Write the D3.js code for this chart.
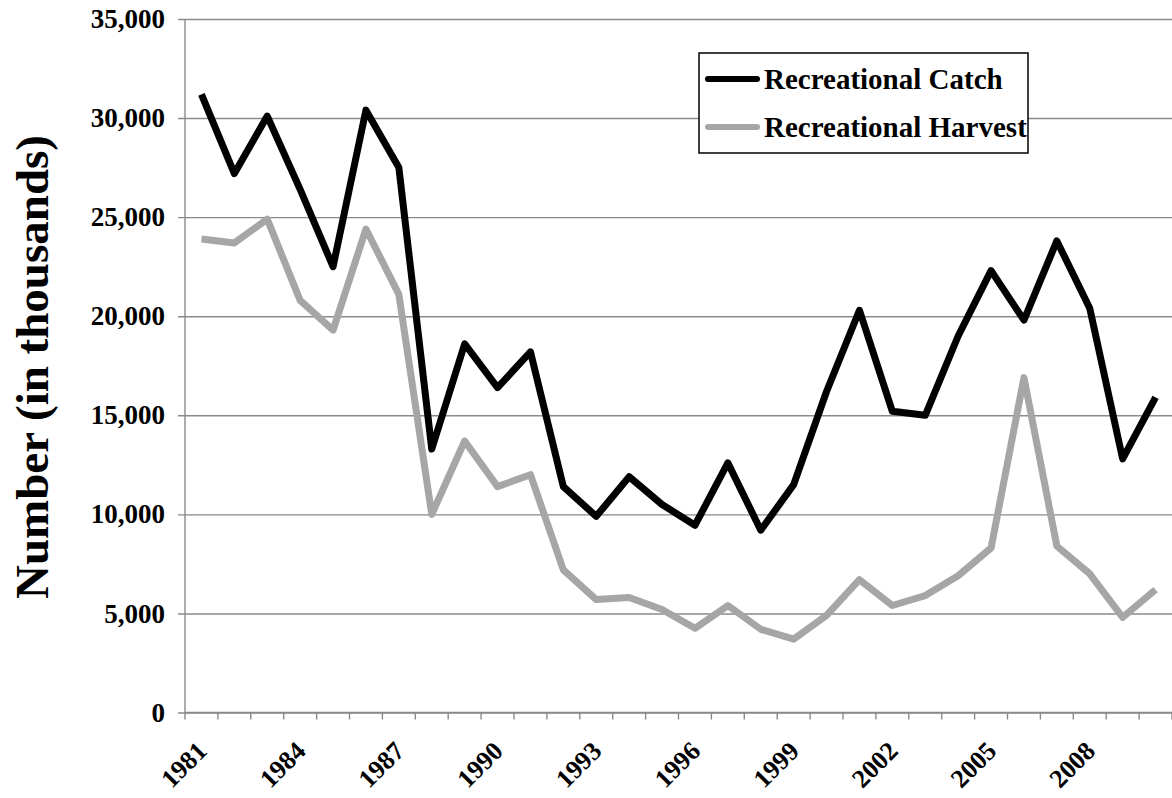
<!DOCTYPE html>
<html>
<head>
<meta charset="utf-8">
<script src="https://cdn.jsdelivr.net/npm/d3@7"></script>
<style>
  body { margin: 0; background: #fff; }
  svg { display: block; font-family: "Liberation Serif", "Times New Roman", serif; font-weight: bold; }
</style>
</head>
<body>
<svg id="chart" width="1172" height="798"></svg>
<script>
var years = d3.range(1981, 2011)
var catchVals = [31200, 27200, 30100, 26400, 22500, 30400, 27500, 13300, 18600, 16400,
  18200, 11400, 9900, 11900, 10500, 9450, 12600, 9200, 11500, 16200,
  20300, 15200, 15000, 19000, 22300, 19800, 23800, 20400, 12800, 15900]
var harvestVals = [23900, 23700, 24900, 20800, 19300, 24400, 21100, 10000, 13700, 11400,
  12000, 7200, 5700, 5800, 5200, 4250, 5400, 4200, 3700, 4900,
  6700, 5400, 5900, 6900, 8300, 16900, 8400, 7000, 4800, 6200]
var yTicks = [0, 5000, 10000, 15000, 20000, 25000, 30000, 35000]
var xLabelYears = [1981, 1984, 1987, 1990, 1993, 1996, 1999, 2002, 2005, 2008]
var seriesNames = ["Recreational Catch", "Recreational Harvest"]
var seriesColors = ["#000000", "#a6a6a6"]

var svg = d3.select("#chart")
var mLeft = 185, mRight = 1172, mTop = 19, mBottom = 712.5

var x = d3.scaleBand().domain(years).range([mLeft, mRight])
var y = d3.scaleLinear().domain([0, 35000]).range([mBottom, mTop])

// gridlines + y labels
var yAxis = svg.append("g")
  .attr("transform", "translate(" + mLeft + ",0)")
  .call(d3.axisLeft(y).tickValues(yTicks).tickSize(-(mRight - mLeft)).tickSizeOuter(0)
    .tickFormat(d3.format(",")))
yAxis.select(".domain").remove()
yAxis.selectAll(".tick line").attr("stroke", "#8a8a8a").attr("stroke-width", 1.4).attr("x1", -7)
yAxis.selectAll(".tick text")
  .attr("x", -20)
  .attr("font-size", 27)
  .attr("font-family", "Liberation Serif")
  .attr("font-weight", "bold")
  .attr("fill", "#000")

svg.append("line")
  .attr("x1", mLeft).attr("x2", mLeft).attr("y1", mTop).attr("y2", mBottom)
  .attr("stroke", "#8a8a8a").attr("stroke-width", 1.4)

// x axis (category ticks sit between years)
var xAxis = svg.append("g")
  .attr("transform", "translate(0," + mBottom + ")")
var edges = years.map(function (d) { return x(d) }).concat([mRight])
xAxis.append("line").attr("x1", mLeft).attr("x2", mRight).attr("stroke", "#8a8a8a").attr("stroke-width", 1.4)
xAxis.selectAll("line.tk").data(edges).enter().append("line")
  .attr("class", "tk")
  .attr("x1", function (d) { return d }).attr("x2", function (d) { return d })
  .attr("y1", 0).attr("y2", 7)
  .attr("stroke", "#8a8a8a").attr("stroke-width", 1.4)
xAxis.selectAll("text").data(xLabelYears).enter().append("text")
  .attr("transform", function (d) {
    return "translate(" + (x(d) + x.bandwidth() / 2 + 7) + ",40) rotate(-45)"
  })
  .attr("text-anchor", "end")
  .attr("font-size", 26)
  .text(function (d) { return d })

// y title
svg.append("text")
  .attr("transform", "translate(48,367) rotate(-90)")
  .attr("text-anchor", "middle")
  .attr("font-size", 47)
  .text("Number (in thousands)")

// lines
var line = d3.line()
  .x(function (d, i) { return x(years[i]) + x.bandwidth() / 2 })
  .y(function (d) { return y(d) })

svg.append("path").datum(harvestVals)
  .attr("d", line).attr("fill", "none")
  .attr("stroke", seriesColors[1]).attr("stroke-width", 7).attr("stroke-linejoin", "round")
svg.append("path").datum(catchVals)
  .attr("d", line).attr("fill", "none")
  .attr("stroke", seriesColors[0]).attr("stroke-width", 7).attr("stroke-linejoin", "round")

// legend
var legend = svg.append("g")
legend.append("rect")
  .attr("x", 699).attr("y", 53).attr("width", 329).attr("height", 100)
  .attr("fill", "#fff").attr("stroke", "#000").attr("stroke-width", 1.5)
var items = legend.selectAll("g.item").data(seriesNames).enter().append("g")
  .attr("transform", function (d, i) { return "translate(708," + (79 + i * 48) + ")" })
items.append("line").attr("x1", 0).attr("x2", 49)
  .attr("stroke", function (d, i) { return seriesColors[i] })
  .attr("stroke-width", 6).attr("stroke-linecap", "round")
items.append("text").attr("x", 56).attr("dy", "0.35em")
  .attr("font-size", 29)
  .text(function (d) { return d })
</script>
</body>
</html>
